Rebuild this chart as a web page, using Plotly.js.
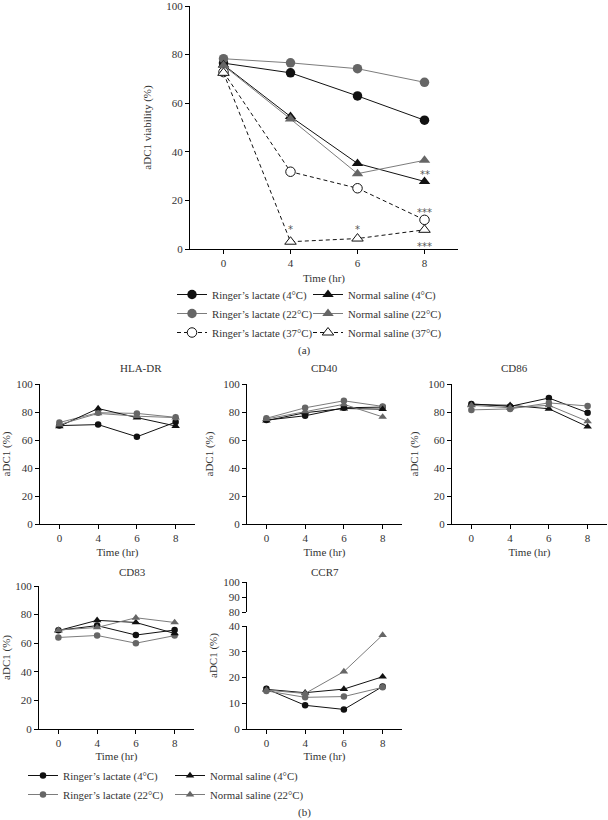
<!DOCTYPE html>
<html><head><meta charset="utf-8">
<script src="https://cdn.plot.ly/plotly-3.0.1.min.js"></script>
<style>html,body{margin:0;padding:0;background:#fff}</style>
</head><body><div id="chart" style="width:608px;height:820px"></div>
<script>
// ---------- data ----------
const timeLabels = ['0','4','6','8'];
const seriesNames = ["Ringer’s lactate (4°C)", "Ringer’s lactate (22°C)", "Ringer’s lactate (37°C)",
                     "Normal saline (4°C)", "Normal saline (22°C)", "Normal saline (37°C)"];
// (a) viability
const viaRL4  = [76.5, 72.5, 63.0, 53.0];
const viaRL22 = [78.3, 76.6, 74.2, 68.6];
const viaRL37 = [72.8, 31.8, 25.0, 12.0];
const viaNS4  = [75.8, 54.5, 35.2, 27.8];
const viaNS22 = [75.5, 53.5, 31.0, 36.5];
const viaNS37 = [72.5, 3.0, 4.3, 7.9];
// significance marks
const sigX = ['4','6','8','8','8'];
const sigY = [8.6, 8.6, 31.0, 15.5, 1.3];
const sigText = ['*','*','**','***','***'];
// (b) markers: order RL4, RL22, NS4, NS22
const panelNames = ['HLA-DR','CD40','CD86','CD83','CCR7'];
const hladrRL4 = [70.3, 71.0, 62.3, 72.8];
const hladrRL22 = [72.5, 79.5, 79.0, 76.2];
const hladrNS4 = [69.8, 82.5, 76.0, 70.0];
const hladrNS22 = [71.0, 79.0, 77.0, 76.0];
const cd40RL4 = [74.2, 77.3, 83.0, 83.5];
const cd40RL22 = [75.5, 83.0, 88.0, 84.0];
const cd40NS4 = [73.8, 79.5, 82.5, 82.0];
const cd40NS22 = [75.0, 80.5, 85.5, 76.5];
const cd86RL4 = [85.8, 84.0, 90.0, 79.5];
const cd86RL22 = [81.5, 82.2, 86.5, 84.3];
const cd86NS4 = [85.3, 84.8, 82.3, 69.5];
const cd86NS22 = [84.8, 83.0, 84.8, 73.3];
const cd83RL4 = [69.0, 72.3, 65.7, 69.2];
const cd83RL22 = [64.0, 65.4, 60.0, 65.3];
const cd83NS4 = [68.8, 76.0, 74.5, 66.8];
const cd83NS22 = [69.2, 71.0, 77.8, 74.5];
const ccr7RL4 = [15.6, 9.2, 7.6, 16.5];
const ccr7RL22 = [14.8, 12.3, 12.6, 16.2];
const ccr7NS4 = [15.4, 14.1, 15.5, 20.3];
const ccr7NS22 = [15.1, 13.8, 22.3, 36.5];
const yTicksMain = [0,20,40,60,80,100];
const yTicksLow = [0,10,20,30,40];
const yTicksUp = [80,90,100];

// ---------- styles ----------
const FONT = 'Liberation Serif, Times New Roman, serif';
const TXT = '#333333';
const BLACK = '#111111', GRAY = '#666666', GRAYLINE = '#7c7c7c';
const W = 608, H = 820;
const px = v => v / W;
const py = v => 1 - v / H;

const styles = {
  RL4:  {color: BLACK, line: BLACK, sym: 'circle', open: false, dash: 'solid'},
  RL22: {color: GRAY, line: GRAYLINE, sym: 'circle', open: false, dash: 'solid'},
  RL37: {color: BLACK, line: BLACK, sym: 'circle', open: true, dash: '4px,3px'},
  NS4:  {color: BLACK, line: BLACK, sym: 'triangle-up', open: false, dash: 'solid'},
  NS22: {color: GRAY, line: GRAYLINE, sym: 'triangle-up', open: false, dash: 'solid'},
  NS37: {color: BLACK, line: BLACK, sym: 'triangle-up', open: true, dash: '4px,3px'}
};

function mk(y, key, name, xa, ya, size, legend, show) {
  const s = styles[key];
  return {
    type: 'scatter', mode: 'lines+markers', x: timeLabels, y: y, name: name,
    xaxis: xa, yaxis: ya, legend: legend, showlegend: show, hoverinfo: 'skip',
    line: {color: s.line, width: 1, dash: s.dash},
    marker: {symbol: s.sym, size: s.sym === 'circle' ? size : size + 1,
             color: s.open ? '#ffffff' : s.color,
             line: {color: s.open ? BLACK : s.color, width: s.open ? 1 : 0}}
  };
}

const traces = [];
// (a)
traces.push(mk(viaRL4, 'RL4', seriesNames[0], 'x', 'y', 9.5, 'legend', true));
traces.push(mk(viaRL22, 'RL22', seriesNames[1], 'x', 'y', 9.5, 'legend', true));
traces.push(mk(viaRL37, 'RL37', seriesNames[2], 'x', 'y', 9.5, 'legend', true));
traces.push(mk(viaNS4, 'NS4', seriesNames[3], 'x', 'y', 9, 'legend2', true));
traces.push(mk(viaNS22, 'NS22', seriesNames[4], 'x', 'y', 9, 'legend2', true));
traces.push(mk(viaNS37, 'NS37', seriesNames[5], 'x', 'y', 9, 'legend2', true));

// (b)
const panels = [
  {data: [hladrRL4, hladrRL22, hladrNS4, hladrNS22], xa: 'x2', ya: 'y2'},
  {data: [cd40RL4, cd40RL22, cd40NS4, cd40NS22], xa: 'x3', ya: 'y3'},
  {data: [cd86RL4, cd86RL22, cd86NS4, cd86NS22], xa: 'x4', ya: 'y4'},
  {data: [cd83RL4, cd83RL22, cd83NS4, cd83NS22], xa: 'x5', ya: 'y5'},
  {data: [ccr7RL4, ccr7RL22, ccr7NS4, ccr7NS22], xa: 'x6', ya: 'y6'},
  {data: [ccr7RL4, ccr7RL22, ccr7NS4, ccr7NS22], xa: 'x6', ya: 'y7'}
];
const bKeys = ['RL4','RL22','NS4','NS22'];
const bNames = [seriesNames[0], seriesNames[1], seriesNames[3], seriesNames[4]];
const bLegends = ['legend3','legend3','legend4','legend4'];
panels.forEach((p, pi) => {
  p.data.forEach((d, i) => {
    traces.push(mk(d, bKeys[i], bNames[i], p.xa, p.ya, 6.5, bLegends[i], pi === 0));
  });
});

// ---------- layout ----------
const tickFont = {family: FONT, size: 11, color: TXT};
const titleFont = {family: FONT, size: 11, color: TXT};
function xAx(d0, d1, anchor, standoff) {
  return {domain: [px(d0), px(d1)], anchor: anchor, type: 'category', range: [-0.5, 3.5],
    categoryorder: 'array', categoryarray: timeLabels,
    showline: true, linecolor: '#000', linewidth: 1, ticks: 'outside', ticklen: 4, tickwidth: 1,
    tickcolor: '#000', showgrid: false, zeroline: false, tickfont: tickFont, fixedrange: true,
    ticklabeloverflow: 'allow',
    title: {text: 'Time (hr)', font: titleFont, standoff: standoff}};
}
function yAx(d0, d1, anchor, range, vals, title, standoff) {
  const a = {domain: [py(d1), py(d0)], anchor: anchor, range: range, tickvals: vals,
    showline: true, linecolor: '#000', linewidth: 1, ticks: 'outside', ticklen: 4, tickwidth: 1,
    tickcolor: '#000', showgrid: false, zeroline: false, tickfont: tickFont, fixedrange: true,
    ticklabeloverflow: 'allow'};
  if (title) a.title = {text: title, font: titleFont, standoff: standoff};
  return a;
}

const legendBase = {bgcolor: 'rgba(0,0,0,0)', font: {family: FONT, size: 10.8, color: TXT},
  orientation: 'v', xanchor: 'left', yanchor: 'top', itemclick: false, itemdoubleclick: false};

const annotations = [];
sigX.forEach((x, i) => annotations.push({xref: 'x', yref: 'y', x: timeLabels.indexOf(x), y: sigY[i],
  text: sigText[i], showarrow: false, font: {family: 'DejaVu Sans, sans-serif', size: 10, color: '#555'},
  yanchor: 'middle', yshift: -1}));
const titleRows = [[40,195,368],[247,402,368],[452,607,368],[39,194,572],[247,402,572]];
panelNames.forEach((n, i) => {
  const r = titleRows[i];
  annotations.push({xref: 'paper', yref: 'paper', x: px((r[0] + r[1]) / 2), y: py(r[2]),
    text: n, showarrow: false, font: titleFont, yanchor: 'middle'});
});
annotations.push({xref: 'paper', yref: 'paper', x: px(304), y: py(351), text: '(a)', showarrow: false,
  font: titleFont, yanchor: 'middle'});
annotations.push({xref: 'paper', yref: 'paper', x: px(304), y: py(812), text: '(b)', showarrow: false,
  font: titleFont, yanchor: 'middle'});
annotations.push({xref: 'paper', yref: 'paper', x: px(213), y: py(656), text: 'aDC1 (%)', textangle: -90,
  showarrow: false, font: titleFont, xanchor: 'center', yanchor: 'middle'});

const layout = {
  width: W, height: H, margin: {l: 0, r: 0, t: 0, b: 0},
  paper_bgcolor: '#fff', plot_bgcolor: 'rgba(0,0,0,0)', font: {family: FONT, color: TXT},
  xaxis: xAx(190, 458, 'y', 6),
  yaxis: yAx(6, 249, 'x', [0, 100], yTicksMain, 'aDC1 viability (%)', 12),
  xaxis2: xAx(40, 195, 'y2', 5),
  yaxis2: yAx(384, 524, 'x2', [0, 100], yTicksMain, 'aDC1 (%)', 7),
  xaxis3: xAx(247, 402, 'y3', 5),
  yaxis3: yAx(384, 524, 'x3', [0, 100], yTicksMain, 'aDC1 (%)', 7),
  xaxis4: xAx(452, 607, 'y4', 5),
  yaxis4: yAx(384, 524, 'x4', [0, 100], yTicksMain, 'aDC1 (%)', 7),
  xaxis5: xAx(39, 194, 'y5', 4),
  yaxis5: yAx(586, 729, 'x5', [0, 100], yTicksMain, 'aDC1 (%)', 7),
  xaxis6: xAx(247, 402, 'y6', 4),
  yaxis6: yAx(626, 729, 'x6', [0, 40], yTicksLow, null, 0),
  yaxis7: yAx(582, 612, 'x6', [80, 100], yTicksUp, null, 0),
  legend:  Object.assign({}, legendBase, {x: px(172), y: py(280)}),
  legend2: Object.assign({}, legendBase, {x: px(308), y: py(280)}),
  legend3: Object.assign({}, legendBase, {x: px(23), y: py(761)}),
  legend4: Object.assign({}, legendBase, {x: px(170), y: py(761)}),
  annotations: annotations,
  showlegend: true
};

Plotly.newPlot('chart', traces, layout, {displayModeBar: false, staticPlot: true});
</script>
</body></html>
